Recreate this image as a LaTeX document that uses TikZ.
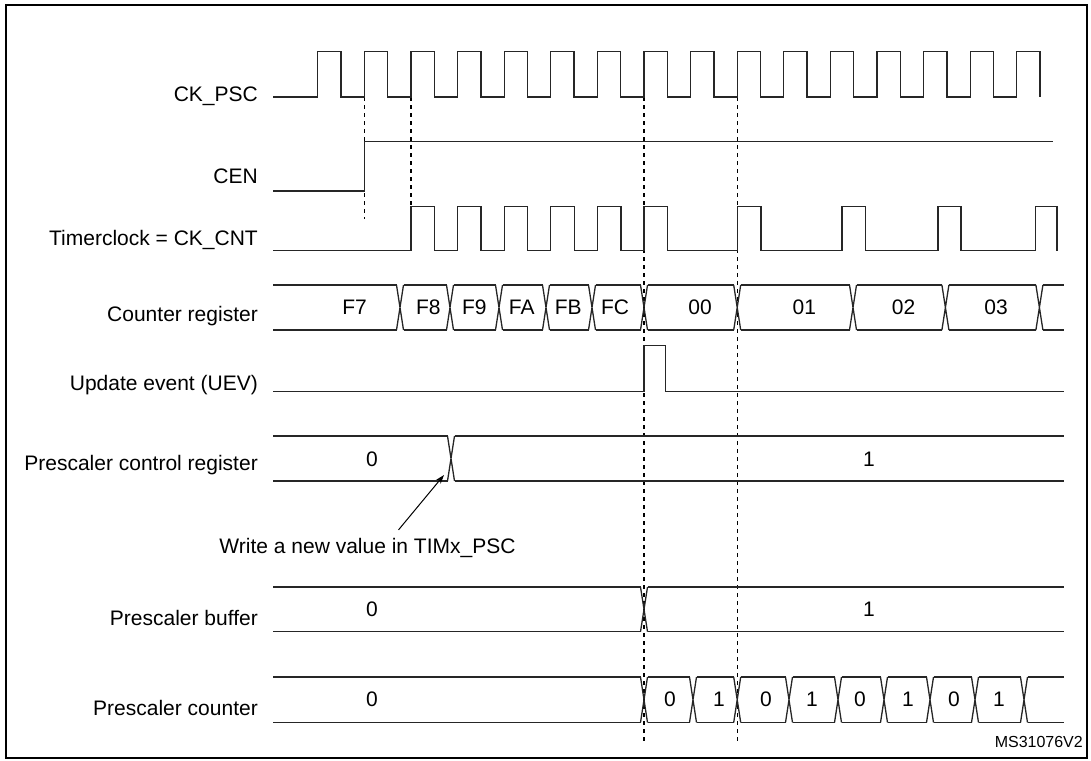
\documentclass[tikz,border=0pt]{standalone}
\usepackage{fontspec}
\setmainfont{Liberation Sans}
\usetikzlibrary{arrows.meta}
\tikzset{>=stealth}
\tikzset{
  wave/.style={line width=1.3pt,draw=black!85},
  guide/.style={line width=1.2pt,dash pattern=on 4pt off 4pt},
  signame/.style={anchor=base east,inner sep=0pt,font=\fontsize{21}{25}\selectfont},
  busval/.style={inner sep=0pt,font=\fontsize{21}{25}\selectfont},
}
\newcommand{\bushw}{3.5}
% bus row: top, bottom, start, end, transitions
\newcommand{\busrow}[5]{%
  \foreach \t in {#5}
    \draw[wave] (\t-\bushw,#1) -- (\t+\bushw,#2) (\t-\bushw,#2) -- (\t+\bushw,#1);
  \foreach \t [remember=\t as \p (initially #3-\bushw)] in {#5,#4+\bushw}
    \draw[wave] (\p+\bushw,#1) -- (\t-\bushw,#1) (\p+\bushw,#2) -- (\t-\bushw,#2);
}

\begin{document}
\begin{tikzpicture}[x=1pt,y=-1pt]
    \useasboundingbox (0,0) rectangle (1091,760);
    \draw[line width=2pt] (5.5,5) rectangle (1086.5,758);
    % signal names
    \node[signame] (ckpsc) at (258,101) {CK\_PSC};
    \node[signame] (cen) at (258,183.3) {CEN};
    \node[signame] (tclk) at (258,245) {Timerclock = CK\_CNT};
    \node[signame] (cntreg) at (258,321.7) {Counter register};
    \node[signame] (uev) at (258,390) {Update event (UEV)};
    \node[signame] (pcr) at (258,470) {Prescaler control register};
    \node[signame] (pbuf) at (258,625) {Prescaler buffer};
    \node[signame] (pcnt) at (258,715) {Prescaler counter};

    % guide lines
    \draw[guide] (364.4,97) -- (364.4,219);
    \draw[guide] (411,97) -- (411,250.7);
    \draw[guide] (644,97) -- (644,741);
    \draw[guide] (737.2,97) -- (737.2,741);

    % CK_PSC
    \draw[wave] (273,97) \foreach \k in {0,...,15}{
        -- ({317.8+46.6*\k},97) -- ({317.8+46.6*\k},51.7)
        -- ({341.1+46.6*\k},51.7) -- ({341.1+46.6*\k},97)};
    % CEN
    \draw[wave] (273,191) -- (364.4,191) -- (364.4,141.7) -- (1053,141.7);
    % timer clock
    \draw[wave] (273,250.7) \foreach \r/\f in {411/434.5,457.6/481,504.2/527.5,550.8/574.5,597.4/621,644/667.5,737.2/761,842/865.5,938/961,1035.3/1057}{
        -- (\r,250.7) -- (\r,206.7) -- (\f,206.7) -- (\f,250.7)};

    % counter register
    \busrow{285}{330}{273}{1063.8}{400,450,499,546,592,644,737.2,853,945.4,1039.4}
    \foreach \v/\x [count=\i] in {F7/354.5,F8/428.3,F9/474.3,FA/521.7,FB/568.3,FC/615,00/700,01/804.4,02/903.6,03/996}
        \node[busval] (cnt\i) at (\x,307.5) {\v};

    % update event
    \draw[wave] (273,391.7) -- (644,391.7) -- (644,345.7) -- (665.8,345.7) -- (665.8,391.7) -- (1063.8,391.7);

    % prescaler control register
    \busrow{436}{481}{273}{1063.8}{451}
    \node[busval] (pcr0) at (372,459.5) {0};
    \node[busval] (pcr1) at (869,459.5) {1};
    \coordinate (pcrx) at (444,475);
    \node[anchor=base,inner sep=0pt,font=\fontsize{21}{25}\selectfont] (wrnote) at (367.5,553.3) {Write a new value in TIMx\_PSC};
    \draw[-{Stealth[length=9pt,width=6pt]},line width=1pt] ([xshift=31pt,yshift=8pt]wrnote.north) -- (pcrx);

    % prescaler buffer
    \busrow{587}{631.7}{273}{1063.8}{644}
    \node[busval] (pbuf0) at (372,609.5) {0};
    \node[busval] (pbuf1) at (869,609.5) {1};

    % prescaler counter
    \busrow{677}{722.5}{273}{1063.8}{644,693,737.2,789,838,884,930,975,1024}
    \foreach \v/\x [count=\i] in {0/372,0/670,1/719,0/766,1/812,0/860,1/908,0/954,1/999}
        \node[busval] (psc\i) at (\x,699.7) {\v};

    \node[anchor=east,inner sep=0pt,font=\fontsize{16}{19}\selectfont] (msref) at (1083,741.7) {MS31076V2};
\end{tikzpicture}
\end{document}
